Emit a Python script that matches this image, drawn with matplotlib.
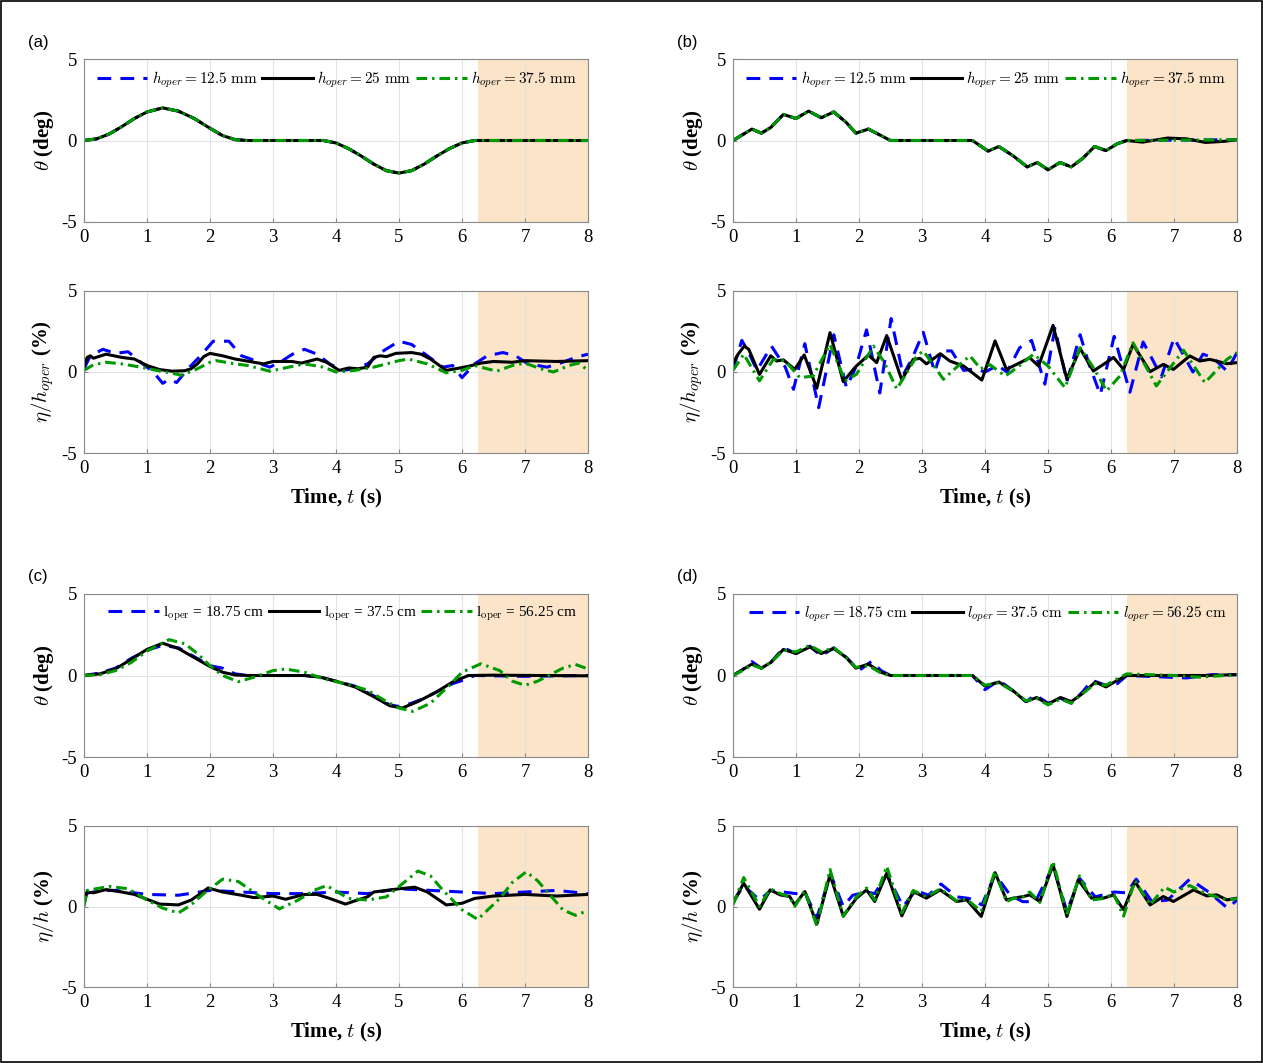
"""Roll angle and free-surface response, four cases (a)-(d)."""

import numpy as np
import matplotlib
matplotlib.use("Agg")
import matplotlib.pyplot as plt
from matplotlib.patches import Rectangle

plt.rcParams["font.family"] = ["Liberation Serif", "DejaVu Serif"]
plt.rcParams["mathtext.fontset"] = "cm"
plt.rcParams["axes.unicode_minus"] = False

# ---- data: (t [s], value) pairs ----
# (a) theta, identical for all three fill heights
a_theta = [(0, 0), (0.2, 0.1), (0.4, 0.4), (0.6, 0.85), (0.8, 1.35), (1.0, 1.75),
           (1.25, 2.0), (1.5, 1.8), (1.75, 1.35), (2.0, 0.75), (2.2, 0.3),
           (2.4, 0.05), (2.6, 0), (3.8, 0), (4.0, -0.15), (4.2, -0.5), (4.4, -0.95),
           (4.6, -1.45), (4.8, -1.85), (5.0, -2.0), (5.2, -1.85), (5.4, -1.45),
           (5.6, -0.95), (5.8, -0.5), (6.0, -0.15), (6.2, 0), (8.0, 0)]
a_eta_blue = [(0, 0.2), (0.1, 1.0), (0.3, 1.4), (0.5, 1.15), (0.7, 1.25), (0.9, 0.6),
              (1.1, 0.0), (1.25, -0.7), (1.35, -0.45), (1.47, -0.65), (1.65, 0.2),
              (1.85, 1.0), (2.05, 1.9), (2.3, 1.9), (2.5, 1.0), (2.65, 0.8), (2.8, 0.5),
              (2.95, 0.3), (3.15, 0.7), (3.35, 1.2), (3.5, 1.4), (3.7, 1.1), (3.9, 0.5),
              (4.1, 0.1), (4.3, 0.2), (4.5, 0.5), (4.75, 1.3), (5.0, 1.9), (5.2, 1.7),
              (5.45, 1.0), (5.7, 0.3), (5.85, 0.4), (6.0, -0.35), (6.2, 0.5), (6.4, 1.0),
              (6.65, 1.2), (6.85, 1.0), (7.05, 0.5), (7.35, 0.3), (7.6, 0.6), (7.8, 0.9),
              (8.0, 1.1)]
a_eta_black = [(0, 0.3), (0.05, 0.9), (0.1, 1.0), (0.15, 0.85), (0.35, 1.1), (0.6, 0.9),
               (0.8, 0.8), (1.0, 0.4), (1.2, 0.15), (1.4, 0.05), (1.6, 0.08), (1.7, 0.2),
               (1.8, 0.5), (1.9, 0.95), (2.0, 1.15), (2.2, 1.0), (2.4, 0.8), (2.7, 0.6),
               (2.85, 0.5), (3.0, 0.65), (3.3, 0.65), (3.45, 0.55), (3.7, 0.8), (3.85, 0.6),
               (4.05, 0.1), (4.2, 0.25), (4.35, 0.2), (4.5, 0.3), (4.6, 0.9), (4.7, 1.0),
               (4.8, 0.95), (4.95, 1.15), (5.2, 1.2), (5.35, 1.1), (5.5, 0.8), (5.75, 0.1),
               (5.9, 0.2), (6.1, 0.35), (6.3, 0.55), (6.5, 0.65), (6.8, 0.6), (7.0, 0.7),
               (7.5, 0.65), (8.0, 0.7)]
a_eta_green = [(0, 0.1), (0.15, 0.45), (0.35, 0.6), (0.6, 0.5), (0.9, 0.3), (1.15, 0.1),
               (1.3, 0.0), (1.55, -0.2), (1.8, 0.2), (2.0, 0.6), (2.1, 0.7), (2.4, 0.5),
               (2.6, 0.4), (2.95, 0.05), (3.25, 0.3), (3.5, 0.5), (3.8, 0.3), (4.0, 0.0),
               (4.3, 0.1), (4.6, 0.3), (5.0, 0.7), (5.15, 0.8), (5.45, 0.5), (5.75, -0.05),
               (6.0, 0.1), (6.2, 0.4), (6.4, 0.2), (6.55, 0.05), (6.8, 0.4), (7.0, 0.55),
               (7.25, 0.2), (7.45, 0.0), (7.7, 0.4), (7.85, 0.55), (8.0, 0.1)]

# (b)
b_theta = [(0, 0), (0.15, 0.35), (0.3, 0.7), (0.45, 0.45), (0.6, 0.8), (0.8, 1.6),
           (1.0, 1.35), (1.2, 1.8), (1.4, 1.4), (1.6, 1.75), (1.8, 1.1), (1.95, 0.45),
           (2.15, 0.7), (2.35, 0.3), (2.5, 0.0), (3.8, 0.0), (4.05, -0.65), (4.22, -0.37),
           (4.45, -0.95), (4.67, -1.62), (4.83, -1.35), (5.0, -1.8), (5.19, -1.35),
           (5.37, -1.62), (5.55, -1.1), (5.74, -0.37), (5.92, -0.62), (6.1, -0.2),
           (6.25, 0.0), (8.0, 0.05)]
b_theta_black_tail = [(6.5, -0.1), (6.9, 0.15), (7.2, 0.1), (7.5, -0.12), (7.8, -0.05),
                      (8.0, 0.05)]
b_eta_blue = [(0, 0.2), (0.14, 1.95), (0.25, 1.2), (0.38, 0.1), (0.61, 1.6), (0.83, 0.3),
              (0.96, -1.07), (1.14, 1.75), (1.36, -2.2), (1.6, 2.3), (1.8, -0.95),
              (1.95, 0.3), (2.12, 2.6), (2.33, -1.3), (2.51, 3.3), (2.7, -0.2), (2.85, 0.9),
              (3.02, 2.45), (3.2, 0.0), (3.31, 1.3), (3.47, 1.3), (3.66, 0.1), (3.85, 0.2),
              (4.0, 0.0), (4.2, 0.4), (4.35, 0.0), (4.55, 1.5), (4.74, 1.95), (4.95, -0.75),
              (5.11, 2.7), (5.3, -0.6), (5.51, 2.3), (5.65, 0.5), (5.83, -1.4), (6.05, 2.2),
              (6.3, -1.25), (6.51, 1.85), (6.67, 0.68), (6.8, -0.3), (7.0, 2.1), (7.2, 0.7),
              (7.3, 0.0), (7.46, 1.1), (7.62, 0.88), (7.84, 0.06), (8.0, 1.2)]
b_eta_black = [(0, 0.5), (0.08, 1.1), (0.18, 1.6), (0.25, 1.4), (0.42, -0.15), (0.6, 1.0),
               (0.69, 0.68), (0.8, 0.75), (0.98, 0.16), (1.13, 1.05), (1.33, -1.0),
               (1.54, 2.43), (1.75, -0.6), (1.94, 0.3), (2.15, 1.05), (2.28, 0.58),
               (2.44, 2.25), (2.68, -0.5), (2.86, 0.78), (2.97, 0.84), (3.07, 0.5),
               (3.29, 1.13), (3.44, 0.68), (3.66, 0.37), (3.95, -0.5), (4.16, 1.92),
               (4.34, 0.16), (4.45, 0.37), (4.61, 0.68), (4.71, 0.88), (4.85, 0.37),
               (5.08, 2.88), (5.3, -0.45), (5.51, 1.45), (5.72, 0.06), (5.88, 0.47),
               (6.04, 0.9), (6.2, 0.16), (6.35, 1.71), (6.62, 0.02), (6.83, 0.47),
               (6.99, 0.16), (7.25, 0.99), (7.41, 0.68), (7.57, 0.78), (7.84, 0.51),
               (8.0, 0.58)]
b_eta_green = [(0, 0.1), (0.17, 1.1), (0.42, -0.55), (0.64, 0.78), (0.83, 0.68),
               (1.06, -0.35), (1.27, -0.25), (1.54, 1.7), (1.78, -0.55), (1.96, -0.14),
               (2.23, 1.6), (2.4, 0.6), (2.6, -1.05), (2.92, 1.0), (3.02, 1.3), (3.15, 0.6),
               (3.34, -0.45), (3.55, 0.3), (3.76, 1.0), (3.93, 0.2), (4.08, 0.45),
               (4.32, -0.25), (4.51, 0.27), (4.77, 1.1), (5.0, 0.37), (5.27, -0.97),
               (5.51, 1.5), (5.72, 0.27), (5.93, -1.17), (6.14, -0.25), (6.35, 1.8),
               (6.72, -0.86), (7.15, 1.35), (7.49, -0.66), (7.84, 0.78), (8.0, 1.2)]

# (c)
c_theta_blue = [(0, 0), (0.25, 0.15), (0.5, 0.45), (0.75, 1.05), (1.0, 1.55), (1.25, 1.85),
                (1.5, 1.7), (1.75, 1.15), (2.0, 0.6), (2.2, 0.45), (2.4, 0.1), (2.6, 0.0),
                (3.5, 0.0), (3.75, -0.1), (4.0, -0.35), (4.3, -0.65), (4.6, -1.25),
                (4.85, -1.8), (5.0, -1.9), (5.2, -1.7), (5.4, -1.4), (5.6, -1.0),
                (5.85, -0.5), (6.05, -0.25), (6.2, 0.0), (7.0, -0.05), (8.0, 0.0)]
c_theta_black = [(0, 0), (0.25, 0.1), (0.5, 0.4), (0.75, 1.0), (1.0, 1.6), (1.25, 1.98),
                 (1.5, 1.65), (1.75, 1.1), (2.0, 0.55), (2.2, 0.2), (2.4, 0.03), (2.6, 0.0),
                 (3.5, 0.0), (3.75, -0.1), (4.0, -0.35), (4.3, -0.7), (4.6, -1.3),
                 (4.85, -1.85), (5.05, -2.0), (5.3, -1.6), (5.6, -1.0), (5.85, -0.4),
                 (6.1, 0.0), (6.5, 0.02), (8.0, -0.02)]
c_theta_green = [(0, 0), (0.25, 0.05), (0.5, 0.3), (0.75, 0.8), (1.0, 1.5), (1.35, 2.2),
                 (1.6, 1.95), (1.8, 1.35), (2.0, 0.6), (2.2, 0.0), (2.45, -0.38),
                 (2.7, -0.1), (3.0, 0.3), (3.2, 0.4), (3.5, 0.2), (3.8, -0.2), (4.2, -0.55),
                 (4.5, -0.9), (4.8, -1.6), (5.0, -2.0), (5.22, -2.2), (5.5, -1.7),
                 (5.8, -0.6), (6.0, 0.2), (6.3, 0.72), (6.6, 0.3), (6.8, -0.35),
                 (7.0, -0.6), (7.2, -0.35), (7.4, 0.05), (7.6, 0.45), (7.8, 0.68),
                 (8.0, 0.4)]
c_eta_blue = [(0, 0.8), (0.3, 1.0), (0.5, 1.0), (1.0, 0.75), (1.5, 0.7), (2.0, 1.0),
              (2.5, 0.9), (3.0, 0.8), (3.5, 0.8), (4.0, 0.9), (4.5, 0.8), (5.0, 1.1),
              (5.5, 1.0), (6.0, 0.9), (6.5, 0.8), (7.0, 0.9), (7.5, 1.0), (8.0, 0.8)]
c_eta_black = [(0, 0.2), (0.05, 0.9), (0.15, 0.85), (0.35, 1.05), (0.6, 0.9), (0.8, 0.75),
               (1.0, 0.45), (1.2, 0.15), (1.5, 0.1), (1.7, 0.4), (1.85, 0.8), (1.97, 1.15),
               (2.2, 0.9), (2.5, 0.7), (2.7, 0.55), (3.0, 0.65), (3.2, 0.45), (3.5, 0.75),
               (3.7, 0.75), (3.9, 0.5), (4.15, 0.15), (4.3, 0.35), (4.5, 0.6), (4.6, 0.9),
               (4.8, 1.0), (5.0, 1.1), (5.25, 1.2), (5.45, 0.9), (5.75, 0.1), (6.0, 0.2),
               (6.2, 0.5), (6.5, 0.65), (7.0, 0.75), (7.5, 0.65), (8.0, 0.75)]
c_eta_green = [(0, 0.0), (0.05, 1.0), (0.4, 1.25), (0.7, 1.1), (1.0, 0.4), (1.25, -0.1),
               (1.5, -0.4), (1.7, 0.1), (1.9, 0.8), (2.2, 1.7), (2.45, 1.55), (2.8, 0.6),
               (3.1, -0.15), (3.4, 0.4), (3.65, 1.0), (3.85, 1.3), (4.2, 0.5), (4.5, 0.4),
               (4.8, 0.6), (5.05, 1.4), (5.3, 2.2), (5.5, 1.9), (5.7, 1.0), (6.0, -0.2),
               (6.25, -0.8), (6.6, 0.5), (6.8, 1.5), (7.02, 2.15), (7.2, 1.6), (7.4, 0.7),
               (7.6, -0.2), (7.8, -0.55), (8.0, -0.25)]

# (d)
d_theta_blue = [(0, 0), (0.15, 0.35), (0.3, 0.85), (0.45, 0.45), (0.6, 0.8), (0.8, 1.7),
                (1.0, 1.35), (1.22, 1.8), (1.4, 1.2), (1.6, 1.7), (1.8, 1.1), (2.0, 0.3),
                (2.2, 0.87), (2.35, 0.3), (2.5, 0.0), (3.8, 0.0), (4.0, -0.87),
                (4.22, -0.3), (4.45, -0.95), (4.65, -1.6), (4.8, -1.2), (5.0, -1.7),
                (5.2, -1.4), (5.37, -1.7), (5.55, -1.0), (5.7, -0.3), (5.92, -0.6),
                (6.1, -0.5), (6.25, 0.0), (7.2, -0.15), (7.6, 0.05), (8.0, 0.05)]
d_theta_black = [(0, 0), (0.15, 0.35), (0.3, 0.7), (0.45, 0.45), (0.6, 0.8), (0.8, 1.6),
                 (1.0, 1.35), (1.22, 1.75), (1.4, 1.35), (1.6, 1.65), (1.8, 1.1),
                 (1.95, 0.45), (2.15, 0.7), (2.35, 0.2), (2.5, 0.0), (3.8, 0.0),
                 (4.0, -0.65), (4.22, -0.4), (4.45, -0.95), (4.65, -1.6), (4.82, -1.35),
                 (5.0, -1.75), (5.2, -1.35), (5.37, -1.6), (5.55, -1.1), (5.75, -0.4),
                 (5.92, -0.7), (6.1, -0.3), (6.25, 0.0), (7.5, 0.0), (8.0, 0.05)]
d_theta_green = [(0, 0), (0.15, 0.3), (0.3, 0.65), (0.45, 0.45), (0.6, 0.8), (0.8, 1.55),
                 (1.0, 1.45), (1.22, 1.85), (1.4, 1.45), (1.6, 1.7), (1.8, 1.1),
                 (1.95, 0.5), (2.15, 0.6), (2.35, 0.15), (2.5, 0.0), (3.8, 0.0),
                 (4.0, -0.6), (4.22, -0.45), (4.45, -0.95), (4.65, -1.55), (4.82, -1.4),
                 (5.0, -1.8), (5.2, -1.45), (5.37, -1.7), (5.55, -1.1), (5.75, -0.5),
                 (5.92, -0.6), (6.1, -0.2), (6.25, 0.1), (7.0, 0.0), (7.4, -0.1),
                 (8.0, 0.05)]
d_eta_blue = [(0, 0.3), (0.17, 1.3), (0.42, 0.4), (0.6, 1.0), (0.8, 0.9), (1.0, 0.8),
              (1.14, 0.9), (1.33, -0.7), (1.55, 2.0), (1.75, 0.0), (1.9, 0.7), (2.12, 0.9),
              (2.25, 0.8), (2.44, 2.0), (2.7, 0.0), (2.9, 1.0), (3.1, 0.7), (3.3, 1.4),
              (3.55, 0.6), (3.75, 0.5), (3.95, 0.1), (4.16, 2.0), (4.4, 0.7), (4.6, 0.3),
              (4.8, 0.3), (5.08, 2.5), (5.3, -0.3), (5.5, 1.75), (5.75, 0.6), (6.05, 0.9),
              (6.25, 0.85), (6.4, 1.7), (6.65, 0.3), (6.9, 0.4), (7.25, 1.7), (7.55, 0.9),
              (7.85, -0.1), (8.0, 0.4)]
d_eta_black = [(0, 0.2), (0.17, 1.45), (0.42, -0.17), (0.59, 1.03), (0.75, 0.72),
               (0.9, 0.62), (0.98, 0.1), (1.14, 0.93), (1.33, -1.1), (1.54, 1.97),
               (1.75, -0.6), (1.96, 0.52), (2.12, 1.03), (2.25, 0.31), (2.44, 2.07),
               (2.68, -0.58), (2.86, 0.93), (3.07, 0.52), (3.29, 1.03), (3.55, 0.31),
               (3.71, 0.41), (3.94, -0.62), (4.16, 2.1), (4.34, 0.41), (4.45, 0.52),
               (4.61, 0.62), (4.71, 0.72), (4.87, 0.31), (5.08, 2.6), (5.3, -0.62),
               (5.48, 1.66), (5.69, 0.52), (5.88, 0.52), (6.04, 0.72), (6.2, -0.2),
               (6.38, 1.55), (6.62, 0.1), (6.83, 0.62), (6.99, 0.31), (7.31, 1.03),
               (7.52, 0.66), (7.68, 0.72), (7.84, 0.41), (8.0, 0.52)]
d_eta_green = [(0, 0.1), (0.17, 1.8), (0.42, 0.0), (0.59, 1.1), (0.75, 0.8), (0.9, 0.6),
               (0.98, 0.0), (1.14, 1.0), (1.33, -1.2), (1.54, 2.3), (1.75, -0.6),
               (1.96, 0.6), (2.12, 1.15), (2.25, 0.4), (2.44, 2.5), (2.68, -0.4),
               (2.86, 1.0), (3.07, 0.6), (3.29, 1.1), (3.55, 0.35), (3.71, 0.45),
               (3.94, -0.3), (4.16, 2.2), (4.34, 0.3), (4.45, 0.5), (4.61, 0.6),
               (4.71, 0.9), (4.87, 0.25), (5.08, 2.8), (5.3, -0.5), (5.5, 1.9),
               (5.69, 0.4), (5.88, 0.5), (6.04, 0.8), (6.2, -0.6), (6.38, 1.6),
               (6.62, 0.1), (6.85, 1.2), (7.0, 0.9), (7.25, 1.3), (7.5, 0.8),
               (7.85, 0.4), (8.0, 0.5)]

h_labels = [r"$h_{oper}=12.5\ \mathrm{mm}$", r"$h_{oper}=25\ \mathrm{mm}$",
            r"$h_{oper}=37.5\ \mathrm{mm}$"]
l_labels_c = [r"l$_{\rm oper}$ = 18.75 cm", r"l$_{\rm oper}$ = 37.5 cm",
              r"l$_{\rm oper}$ = 56.25 cm"]
l_labels_d = [r"$l_{oper}=18.75\ \mathrm{cm}$", r"$l_{oper}=37.5\ \mathrm{cm}$",
              r"$l_{oper}=56.25\ \mathrm{cm}$"]

panels = [
    ("(a)", 0, 0, [a_theta, a_theta, a_theta], [a_eta_blue, a_eta_black, a_eta_green],
     h_labels, r"$\eta/h_{oper}$ (%)"),
    ("(b)", 1, 0, [b_theta, b_theta[:-1] + b_theta_black_tail, b_theta],
     [b_eta_blue, b_eta_black, b_eta_green], h_labels, r"$\eta/h_{oper}$ (%)"),
    ("(c)", 0, 1, [c_theta_blue, c_theta_black, c_theta_green],
     [c_eta_blue, c_eta_black, c_eta_green], l_labels_c, r"$\eta/h$ (%)"),
    ("(d)", 1, 1, [d_theta_blue, d_theta_black, d_theta_green],
     [d_eta_blue, d_eta_black, d_eta_green], l_labels_d, r"$\eta/h$ (%)"),
]

# ---- layout (pixel boxes of the original) ----
W, H = 1263, 1063
col_x = [(84, 588), (733, 1237)]
rows_y = [((59, 222), (291, 453)), ((594, 757), (826, 987))]
tag_y = [43, 577]
styles = [dict(color="#0000ff", ls=(0, (4.5, 3))),
          dict(color="black", ls="-"),
          dict(color="#009a00", ls=(0, (3.5, 1.6, 0.8, 1.6)))]
shade = "#fbe4c8"
spine_c = "#8a8a8a"

fig = plt.figure(figsize=(W / 100, H / 100), dpi=100)


def box(x0, x1, y0, y1):
    return fig.add_axes([x0 / W, 1 - y1 / H, (x1 - x0) / W, (y1 - y0) / H])


def style(ax):
    ax.axvspan(6.25, 8, color=shade, lw=0, zorder=0)
    ax.set_xlim(0, 8)
    ax.set_ylim(-5, 5)
    ax.set_xticks(range(9))
    ax.set_yticks([-5, 0, 5])
    ax.grid(True, color="#e3e3e3", lw=0.8, zorder=0.5)
    ax.set_axisbelow(True)
    for s in ax.spines.values():
        s.set_color(spine_c)
        s.set_linewidth(0.8)
    ax.tick_params(direction="in", length=3, color=spine_c, labelsize=13.5, pad=5)


line_kw = dict(lw=2.2, solid_joinstyle="round", dash_joinstyle="round",
               dash_capstyle="butt")

for tag, c, r, thetas, etas, labels, eta_lab in panels:
    x0, x1 = col_x[c]
    (ty0, ty1), (by0, by1) = rows_y[r]
    ax_t = box(x0, x1, ty0, ty1)
    ax_b = box(x0, x1, by0, by1)
    for ax in (ax_t, ax_b):
        style(ax)
    handles = []
    for series, st, lab in zip(thetas, styles, labels):
        t, v = np.array(series).T
        h, = ax_t.plot(t, v, label=lab, **st, **line_kw)
        handles.append(h)
    for series, st in zip(etas, styles):
        t, v = np.array(series).T
        ax_b.plot(t, v, **st, **line_kw)
    ax_t.legend(handles=handles, loc="upper right", bbox_to_anchor=(1.0, 1.0),
                ncol=3, frameon=False, fontsize=11, handlelength=3.3,
                handletextpad=0.3, columnspacing=0.3, borderaxespad=0.3)
    ax_t.set_ylabel(r"$\theta$ (deg)", fontsize=15, fontweight="bold")
    ax_t.yaxis.set_label_coords(-0.056, 0.5)
    ax_b.set_ylabel(eta_lab, fontsize=15, fontweight="bold")
    ax_b.yaxis.set_label_coords(-0.056, 0.5)
    ax_b.set_xlabel(r"Time, $t$ (s)", fontsize=15, fontweight="bold")
    ax_b.xaxis.set_label_coords(0.5, -0.21)
    fig.text((x0 - 46) / W, 1 - tag_y[r] / H, tag, fontsize=12, va="center",
             ha="center", family=["Liberation Sans", "DejaVu Sans"])

fig.patches.append(Rectangle((0.001, 0.001), 0.998, 0.998, transform=fig.transFigure,
                             fill=False, ec="black", lw=1.2))

fig.savefig("out.png", dpi=100)
